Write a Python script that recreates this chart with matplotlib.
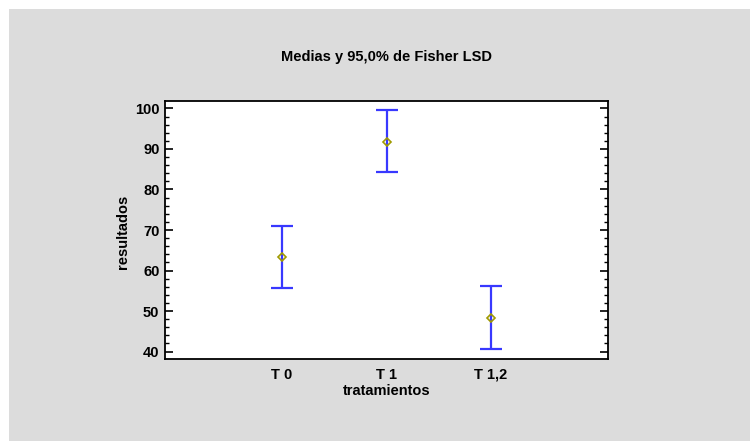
import matplotlib.pyplot as plt
from matplotlib.patches import Rectangle
from matplotlib.ticker import MultipleLocator

# datos
tratamientos = ["T 0", "T 1", "T 1,2"]
medias = [63.3, 91.6, 48.4]
limite_inf = [55.7, 84.2, 40.6]
limite_sup = [71.1, 99.5, 56.1]

plt.rcParams['font.family'] = ['Liberation Sans', 'DejaVu Sans']
plt.rcParams['font.weight'] = 'bold'

fig = plt.figure(figsize=(7.5, 4.41), dpi=100, facecolor='white')

# fondo gris con borde blanco arriba/izquierda
fondo = Rectangle((9 / 750, 0), 1, 1 - 9 / 441, transform=fig.transFigure,
                  facecolor='#dcdcdc', edgecolor='none', zorder=-10)
fig.add_artist(fondo)

ax = fig.add_axes([165 / 750, 1 - 359.3 / 441, 443 / 750, 258.6 / 441])
ax.set_facecolor('white')

x = list(range(1, len(tratamientos) + 1))
err_inf = [m - l for m, l in zip(medias, limite_inf)]
err_sup = [s - m for m, s in zip(medias, limite_sup)]

ax.errorbar(x, medias, yerr=[err_inf, err_sup], fmt='none', ecolor='#3838ff',
            elinewidth=1.6, capsize=7.8, capthick=1.6, zorder=2)
ax.plot(x, medias, linestyle='none', marker='D', markersize=4.5,
        markerfacecolor='none', markeredgecolor='#a09a00', markeredgewidth=1.2, zorder=3)

ax.set_xlim(-0.12, 4.12)
ax.set_ylim(38.1, 101.9)
ax.set_xticks(x)
ax.set_xticklabels(tratamientos, fontsize=10.5, fontweight='bold')
ax.tick_params(axis='x', length=0, pad=6)

ax.yaxis.set_major_locator(MultipleLocator(10))
ax.yaxis.set_minor_locator(MultipleLocator(2))
ax.tick_params(axis='y', which='major', direction='in', length=6, width=1.2,
               left=True, right=True, labelsize=10.5, pad=4)
ax.tick_params(axis='y', which='minor', direction='in', length=3, width=1.0,
               left=True, right=True)
for lbl in ax.get_yticklabels():
    lbl.set_fontweight('bold')

for s in ax.spines.values():
    s.set_linewidth(1.3)
    s.set_color('black')

ax.set_xlabel('tratamientos', fontsize=10.5, fontweight='bold', va='center')
ax.xaxis.set_label_coords(0.5, -0.1207)
ax.set_ylabel('resultados', fontsize=10.5, fontweight='bold', va='center')
ax.yaxis.set_label_coords(-0.094, 0.492)

fig.text(386.7 / 750, 1 - 57 / 441, 'Medias y 95,0% de Fisher LSD', ha='center', va='center',
         fontsize=10.5, fontweight='bold')

fig.savefig('out.png', dpi=100, facecolor=fig.get_facecolor())
